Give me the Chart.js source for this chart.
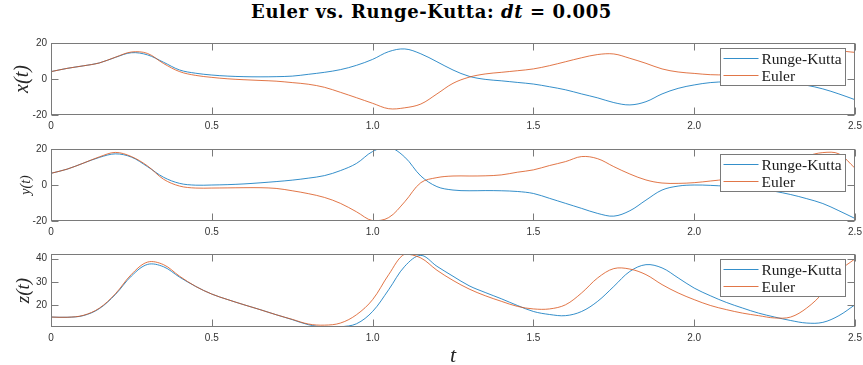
<!DOCTYPE html>
<html>
<head>
<meta charset="utf-8">
<script src="https://cdn.jsdelivr.net/npm/chart.js@4.4.1/dist/chart.umd.min.js"></script>
<style>
body { margin: 0; background: #fff; width: 863px; height: 365px; position: relative; overflow: hidden; }
#title { position: absolute; left: 0; top: 1px; width: 863px; text-align: center; font: bold 18px "DejaVu Serif"; letter-spacing: 0.6px; line-height: 21px; color: #000; }
#xlabel { position: absolute; left: 51px; top: 344px; width: 804px; text-align: center; font: italic 22px "Liberation Serif"; line-height: 22px; color: #262626; }
.plot { position: absolute; left: 0; }
</style>
</head>
<body>
<div id="title">Euler vs. Runge-Kutta: <i>dt</i> = 0.005</div>
<canvas id="px" class="plot" width="863" height="105" style="top:30px"></canvas>
<canvas id="py" class="plot" width="863" height="105" style="top:136px"></canvas>
<canvas id="pz" class="plot" width="863" height="106" style="top:241px"></canvas>
<div id="xlabel">t</div>
<script>
const t = [0, 0.05, 0.1, 0.15, 0.2, 0.25, 0.3, 0.35, 0.4, 0.45, 0.5, 0.55, 0.6, 0.65, 0.7, 0.75, 0.8, 0.85, 0.9, 0.95,
  1, 1.05, 1.1, 1.15, 1.2, 1.25, 1.3, 1.35, 1.4, 1.45, 1.5, 1.55, 1.6, 1.65, 1.7, 1.75, 1.8, 1.85, 1.9, 1.95,
  2, 2.05, 2.1, 2.15, 2.2, 2.25, 2.3, 2.35, 2.4, 2.45, 2.5];

const xRK = [4.1, 5.9, 7.3, 8.9, 12.0, 14.6, 13.4, 9.3, 5.0, 3.2, 2.2, 1.6, 1.3, 1.2, 1.3, 1.6, 2.6, 3.7, 5.2, 7.6,
  10.9, 15.2, 16.7, 14.0, 9.6, 5.0, 1.5, -0.2, -1.0, -1.9, -2.8, -4.3, -6.0, -8.3, -10.5, -13.1, -14.4, -12.6, -8.3, -5.2,
  -3.3, -2.0, -1.5, -1.1, -1.0, -1.4, -2.2, -3.5, -5.5, -8.3, -11.5];
const xEu = [4.1, 5.9, 7.3, 8.9, 12.1, 15.0, 14.2, 8.6, 4.1, 2.0, 0.9, 0.1, -0.4, -0.8, -1.2, -2.0, -2.9, -4.6, -7.4, -10.4,
  -13.5, -16.5, -16.0, -13.9, -8.3, -2.4, 1.0, 2.8, 3.7, 4.6, 5.6, 7.4, 9.6, 11.8, 13.6, 13.9, 11.5, 8.7, 5.6, 3.9,
  3.1, 2.4, 2.3, 2.5, 3.2, 4.5, 6.5, 9.5, 12.8, 15.3, 14.8];

const yRK = [6.5, 8.8, 12.1, 15.3, 17.3, 15.5, 10.2, 4.3, 0.9, -0.1, 0.0, 0.2, 0.6, 1.2, 1.9, 2.7, 3.8, 5.2, 8.0, 12.0,
  18.6, 21.0, 15.5, 5.0, -0.9, -2.8, -3.2, -3.1, -3.2, -3.6, -4.7, -7.4, -10.2, -13.0, -15.8, -17.3, -14.3, -8.4, -2.8, -0.6,
  0.0, -0.2, -0.7, -1.3, -2.1, -3.5, -5.3, -7.6, -10.3, -14.3, -18.6];
const yEu = [6.5, 8.8, 12.1, 15.6, 18.1, 15.8, 10.6, 3.2, -0.6, -1.7, -1.7, -1.6, -1.5, -1.5, -1.9, -3.2, -4.8, -6.9, -10.2, -14.9,
  -19.8, -18.1, -9.3, 1.3, 4.1, 5.0, 5.0, 5.1, 5.6, 7.1, 8.4, 10.8, 13.0, 15.8, 14.6, 10.2, 6.1, 2.8, 1.1, 0.9,
  1.3, 2.2, 3.2, 4.5, 6.5, 9.0, 12.5, 16.0, 18.0, 17.3, 9.3];

const zRK = [14.8, 14.7, 15.4, 18.4, 24.5, 32.5, 37.5, 36.5, 32.0, 28.0, 24.7, 22.3, 20.1, 18.0, 15.8, 13.7, 11.5, 10.5, 10.6, 11.9,
  17.2, 26.6, 36.7, 41.4, 36.7, 32.4, 28.3, 25.4, 22.7, 19.8, 17.2, 15.9, 15.4, 17.2, 21.6, 28.0, 34.5, 37.4, 36.0, 31.7,
  27.3, 24.0, 21.1, 18.7, 16.5, 14.8, 13.3, 12.2, 12.5, 15.4, 20.1];
const zEu = [14.8, 14.7, 15.5, 18.6, 24.8, 33.2, 38.5, 37.4, 32.4, 28.0, 24.7, 22.3, 20.1, 18.0, 15.8, 13.8, 11.8, 11.3, 12.2, 15.8,
  22.3, 33.1, 42.0, 40.3, 35.0, 30.6, 26.9, 24.0, 21.6, 19.4, 18.3, 18.3, 20.1, 25.2, 31.7, 35.7, 35.5, 33.1, 28.8, 25.2,
  22.3, 19.8, 18.0, 16.5, 15.4, 14.4, 14.8, 18.7, 25.2, 34.5, 39.9];

const tTicks = [0, 0.5, 1, 1.5, 2, 2.5];
const xyTicks = [-20, 0, 20];
const zTicks = [20, 30, 40];
const seriesNames = ['Runge-Kutta', 'Euler'];
const seriesColors = ['#0072BD', '#D95319'];

const axisColor = '#7a7a7a';
const tickLen = 7;

// box round the axes with inward ticks on all four sides
const frame = {
  id: 'frame',
  afterDatasetsDraw(chart) {
    const { ctx, chartArea: a, scales } = chart;
    const L = Math.round(a.left) + 0.5, R = Math.round(a.right) - 0.5;
    const T = Math.round(a.top) + 0.5, B = Math.round(a.bottom) - 0.5;
    ctx.save();
    ctx.strokeStyle = axisColor;
    ctx.lineWidth = 1;
    ctx.strokeRect(L, T, R - L, B - T);
    ctx.beginPath();
    scales.x.ticks.forEach(tk => {
      const px = Math.round(scales.x.getPixelForValue(tk.value)) + 0.5;
      ctx.moveTo(px, T); ctx.lineTo(px, T + tickLen);
      ctx.moveTo(px, B); ctx.lineTo(px, B - tickLen);
    });
    scales.y.ticks.forEach(tk => {
      const py = Math.round(scales.y.getPixelForValue(tk.value)) + 0.5;
      ctx.moveTo(L, py); ctx.lineTo(L + tickLen, py);
      ctx.moveTo(R, py); ctx.lineTo(R - tickLen, py);
    });
    ctx.stroke();
    ctx.restore();
  }
};

// legend box in the north-east corner of the axes
const cornerLegend = {
  id: 'cornerLegend',
  afterDatasetsDraw(chart) {
    const { ctx, chartArea: a } = chart;
    const w = 125, h = 37;
    const left = Math.round(a.right - 10 - w) + 0.5;
    const top = Math.round(a.top + 5) + 0.5;
    ctx.save();
    ctx.fillStyle = '#fff';
    ctx.fillRect(left, top, w, h);
    ctx.strokeStyle = axisColor;
    ctx.lineWidth = 1;
    ctx.strokeRect(left, top, w, h);
    ctx.font = '15.5px "Liberation Serif"';
    ctx.textBaseline = 'middle';
    ctx.textAlign = 'left';
    chart.data.datasets.forEach((ds, i) => {
      const rowY = top + 10 + i * 17;
      ctx.strokeStyle = ds.borderColor;
      ctx.lineWidth = 0.8;
      ctx.beginPath();
      ctx.moveTo(left + 3, rowY);
      ctx.lineTo(left + 38, rowY);
      ctx.stroke();
      ctx.fillStyle = '#1a1a1a';
      ctx.fillText(ds.label, left + 41, rowY + 1);
    });
    ctx.restore();
  }
};

function makePlot(id, rk, eu, yMin, yMax, yTicks, yLabel, labelSize, labelPad) {
  const toPts = vals => t.map((x, i) => ({ x: x, y: vals[i] }));
  new Chart(document.getElementById(id), {
    type: 'line',
    data: {
      datasets: [
        { label: seriesNames[0], data: toPts(rk), borderColor: seriesColors[0], borderWidth: 0.8, pointRadius: 0, tension: 0.35, order: 1 },
        { label: seriesNames[1], data: toPts(eu), borderColor: seriesColors[1], borderWidth: 0.8, pointRadius: 0, tension: 0.35, order: 0 }
      ]
    },
    options: {
      responsive: false,
      animation: false,
      layout: { padding: { top: 13, right: 8, left: 0, bottom: 0 } },
      plugins: { legend: { display: false }, tooltip: { enabled: false } },
      scales: {
        x: {
          type: 'linear', min: 0, max: 2.5,
          afterBuildTicks: s => { s.ticks = tTicks.map(v => ({ value: v })); },
          afterFit: s => { s.height = 20; s.paddingLeft = 0; s.paddingRight = 0; },
          grid: { display: false, drawTicks: false },
          border: { display: false },
          ticks: { padding: 5, maxRotation: 0, autoSkip: false, color: '#333', font: { family: 'Liberation Sans', size: 10 } }
        },
        y: {
          type: 'linear', min: yMin, max: yMax,
          afterBuildTicks: s => { s.ticks = yTicks.map(v => ({ value: v })); },
          afterFit: s => { s.width = 51; s.paddingTop = 0; s.paddingBottom = 0; },
          grid: { display: false, drawTicks: false },
          border: { display: false },
          ticks: { padding: 4, color: '#333', font: { family: 'Liberation Sans', size: 10 } },
          title: { display: true, text: yLabel, color: '#262626', padding: { top: labelPad, bottom: 0 },
                   font: { family: 'Liberation Serif', style: 'italic', size: labelSize, lineHeight: 1.2 } }
        }
      }
    },
    plugins: [frame, cornerLegend]
  });
}

makePlot('px', xRK, xEu, -20, 20, xyTicks, 'x(t)', 20, 10.5);
makePlot('py', yRK, yEu, -20, 20, xyTicks, 'y(t)', 14, 17.6);
makePlot('pz', zRK, zEu, 10.5, 42, zTicks, 'z(t)', 19, 12.6);
</script>
</body>
</html>
